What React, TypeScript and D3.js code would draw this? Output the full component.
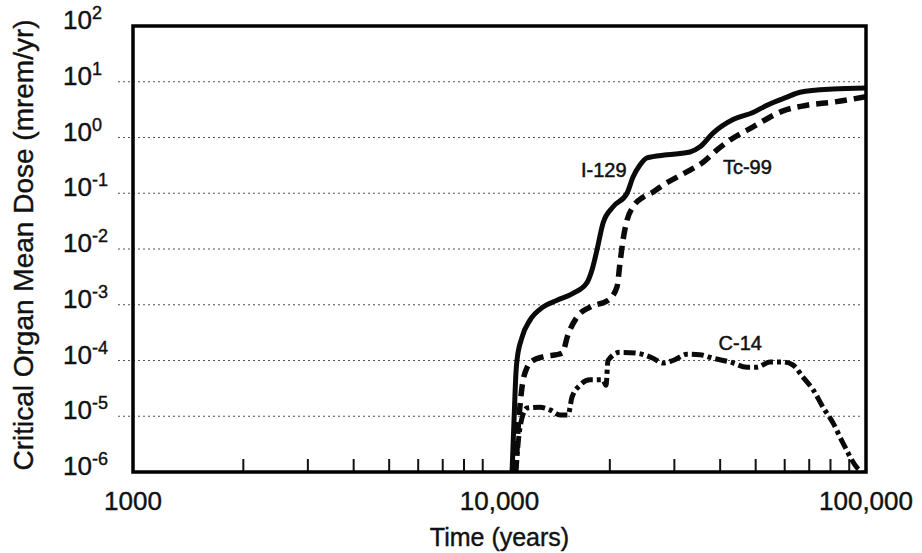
import React, { useEffect, useRef } from "react";
import * as d3 from "d3";

// time in years, dose in mrem/yr
const i129Years = [10820, 10956, 11092, 11160, 11518, 12112, 13144, 14355, 15866, 17326, 17880, 18450, 19160, 20400, 22280, 23140, 24170, 25260, 28640, 33100, 35250, 38240, 43370, 49170, 53700, 60880, 66060, 81280, 100000];
const i129Dose = [1e-6, 8.5e-6, 6.2e-5, 1.0e-4, 2.6e-4, 5.3e-4, 9.1e-4, 1.2e-3, 1.6e-3, 2.5e-3, 4.2e-3, 9.6e-3, 0.029, 0.057, 0.1, 0.195, 0.32, 0.43, 0.49, 0.55, 0.68, 1.2, 2.1, 2.8, 3.8, 5.3, 6.5, 7.4, 7.7];

const tc99Years = [11024, 11160, 11230, 11370, 11518, 11885, 12343, 13062, 14812, 15377, 16269, 17657, 19770, 20920, 21320, 21730, 22280, 23140, 24630, 26230, 27930, 30510, 33100, 35930, 39220, 42560, 49170, 59360, 69020, 81280, 100000];
const tc99Dose = [1e-6, 2.5e-6, 5.6e-6, 1.5e-5, 3.3e-5, 7.4e-5, 1.0e-4, 1.15e-4, 1.35e-4, 2.9e-4, 6.0e-4, 9.1e-4, 1.2e-3, 2.1e-3, 5.6e-3, 0.0145, 0.033, 0.057, 0.085, 0.105, 0.14, 0.195, 0.26, 0.36, 0.6, 0.9, 1.55, 3.0, 3.8, 4.3, 5.4];

const c14Years = [11092, 11230, 11518, 11885, 12896, 13730, 14630, 15377, 15770, 16580, 17657, 19160, 19530, 19770, 21320, 23730, 26230, 27930, 29740, 32480, 35250, 38240, 42560, 47350, 50420, 54710, 59360, 63230, 67330, 71700, 76330, 81280, 86560, 94500, 97520];
const c14Dose = [1e-6, 3.0e-6, 9.3e-6, 1.4e-5, 1.45e-5, 1.3e-5, 1.05e-5, 1.05e-5, 2.2e-5, 3.6e-5, 4.5e-5, 4.5e-5, 3.6e-5, 1.0e-4, 1.4e-4, 1.35e-4, 1.1e-4, 9e-5, 1.0e-4, 1.3e-4, 1.27e-4, 1.1e-4, 9.4e-5, 7.6e-5, 7.6e-5, 9.4e-5, 9.4e-5, 8.3e-5, 5.0e-5, 3.0e-5, 1.45e-5, 7.6e-6, 3.3e-6, 1.2e-6, 1e-6];

const yExponents = [2, 1, 0, -1, -2, -3, -4, -5, -6];
const gridExponents = [1, 0, -1, -2, -3, -4, -5];
const xTickLabels = [
  { value: 1000, label: "1000" },
  { value: 10000, label: "10,000" },
  { value: 100000, label: "100,000" },
];
const minorTicks = [2000, 3000, 4000, 5000, 6000, 7000, 8000, 9000, 20000, 30000, 40000, 50000, 60000, 70000, 80000, 90000];

const curveLabels = [
  { text: "I-129", year: 16680, dose: 0.195 },
  { text: "Tc-99", year: 40700, dose: 0.22 },
  { text: "C-14", year: 39600, dose: 1.55e-4 },
];

const font = "'Liberation Sans', Arial, sans-serif";

const DoseChart: React.FC = () => {
  const svgRef = useRef<SVGSVGElement | null>(null);

  useEffect(() => {
    if (!svgRef.current) return;
    const svg = d3.select(svgRef.current);
    svg.selectAll("*").remove();

    const width = 922;
    const height = 553;
    const margin = { top: 26, right: 56, bottom: 81, left: 133 };

    const x = d3.scaleLog().domain([1000, 100000]).range([margin.left, width - margin.right]);
    const y = d3.scaleLog().domain([1e-6, 100]).range([height - margin.bottom, margin.top]);

    svg.attr("width", width).attr("height", height);

    svg
      .append("defs")
      .append("clipPath")
      .attr("id", "plot-clip")
      .append("rect")
      .attr("x", margin.left)
      .attr("y", margin.top)
      .attr("width", width - margin.left - margin.right)
      .attr("height", height - margin.top - margin.bottom);

    // dotted grid
    svg
      .append("g")
      .selectAll("line")
      .data(gridExponents)
      .join("line")
      .attr("x1", margin.left - 15)
      .attr("x2", width - margin.right - 4)
      .attr("y1", (d) => y(Math.pow(10, d)))
      .attr("y2", (d) => y(Math.pow(10, d)))
      .attr("stroke", "#555")
      .attr("stroke-width", 1.2)
      .attr("stroke-dasharray", "2,3");

    // minor ticks inside the bottom edge
    svg
      .append("g")
      .selectAll("line")
      .data(minorTicks)
      .join("line")
      .attr("x1", (d) => x(d))
      .attr("x2", (d) => x(d))
      .attr("y1", height - margin.bottom)
      .attr("y2", height - margin.bottom - 13)
      .attr("stroke", "#111")
      .attr("stroke-width", 2);

    const line = d3
      .line<[number, number]>()
      .x((d) => x(d[0]))
      .y((d) => y(d[1]))
      .curve(d3.curveMonotoneX);

    const series = [
      { years: i129Years, dose: i129Dose, dash: null, width: 5 },
      { years: tc99Years, dose: tc99Dose, dash: "12,7", width: 5.5 },
      { years: c14Years, dose: c14Dose, dash: "12,4,4,4", width: 5 },
    ];

    const curves = svg.append("g").attr("clip-path", "url(#plot-clip)");
    series.forEach((s) => {
      const pts = s.years.map((t, i) => [t, s.dose[i]] as [number, number]);
      curves
        .append("path")
        .attr("d", line(pts))
        .attr("fill", "none")
        .attr("stroke", "#0a0a0a")
        .attr("stroke-width", s.width)
        .attr("stroke-dasharray", s.dash);
    });

    svg
      .append("g")
      .selectAll("text")
      .data(curveLabels)
      .join("text")
      .attr("x", (d) => x(d.year))
      .attr("y", (d) => y(d.dose))
      .attr("font-family", font)
      .attr("font-size", 20)
      .attr("fill", "#111")
      .attr("stroke", "#111")
      .attr("stroke-width", 0.5)
      .text((d) => d.text);

    // frame
    svg
      .append("rect")
      .attr("x", margin.left)
      .attr("y", margin.top)
      .attr("width", width - margin.left - margin.right)
      .attr("height", height - margin.top - margin.bottom)
      .attr("fill", "none")
      .attr("stroke", "#000")
      .attr("stroke-width", 3.5);

    // y tick labels 10^n
    const yLabels = svg
      .append("g")
      .selectAll("text")
      .data(yExponents)
      .join("text")
      .attr("x", 63)
      .attr("y", (d) => y(Math.pow(10, d)) + 3)
      .attr("font-family", font)
      .attr("font-size", 26)
      .attr("fill", "#111")
      .attr("stroke", "#111")
      .attr("stroke-width", 0.4);
    yLabels.append("tspan").text("10");
    yLabels
      .append("tspan")
      .attr("dy", -10)
      .attr("font-size", 18)
      .text((d) => String(d));

    svg
      .append("g")
      .selectAll("text")
      .data(xTickLabels)
      .join("text")
      .attr("x", (d) => x(d.value))
      .attr("y", height - margin.bottom + 38)
      .attr("text-anchor", "middle")
      .attr("font-family", font)
      .attr("font-size", 26)
      .attr("fill", "#111")
      .attr("stroke", "#111")
      .attr("stroke-width", 0.4)
      .text((d) => d.label);

    svg
      .append("text")
      .attr("x", x(10000))
      .attr("y", 546)
      .attr("text-anchor", "middle")
      .attr("font-family", font)
      .attr("font-size", 25)
      .attr("fill", "#111")
      .attr("stroke", "#111")
      .attr("stroke-width", 0.4)
      .text("Time (years)");

    svg
      .append("text")
      .attr("transform", `translate(33,${(margin.top + height - margin.bottom) / 2 - 4}) rotate(-90)`)
      .attr("text-anchor", "middle")
      .attr("font-family", font)
      .attr("font-size", 28)
      .attr("fill", "#111")
      .attr("stroke", "#111")
      .attr("stroke-width", 0.4)
      .text("Critical Organ Mean Dose (mrem/yr)");
  }, []);

  return <svg ref={svgRef} style={{ position: "absolute", left: 0, top: 0 }}></svg>;
};

export default function App() {
  return <DoseChart />;
}
